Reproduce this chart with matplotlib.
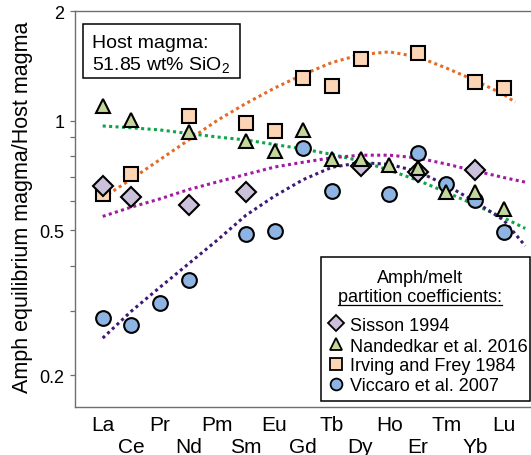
import numpy as np
import matplotlib
matplotlib.use("Agg")
import matplotlib.pyplot as plt
from matplotlib.patches import Rectangle
from matplotlib.lines import Line2D
from matplotlib.ticker import NullFormatter

plt.rcParams['font.family'] = ['Liberation Sans', 'DejaVu Sans']
plt.rcParams['mathtext.fontset'] = 'custom'
plt.rcParams['mathtext.rm'] = 'Liberation Sans'
plt.rcParams['mathtext.it'] = 'Liberation Sans:italic'

nan = np.nan

# Rare earth elements along the x axis
elements = ['La', 'Ce', 'Pr', 'Nd', 'Pm', 'Sm', 'Eu', 'Gd',
            'Tb', 'Dy', 'Ho', 'Er', 'Tm', 'Yb', 'Lu']

# Amph equilibrium magma / host magma, one list per partition-coefficient set
sisson = [0.660, 0.618, nan, 0.587, nan, 0.636, nan, nan,
          nan, 0.753, nan, 0.721, nan, 0.734, nan]
nandedkar = [1.099, 1.002, nan, 0.931, nan, 0.878, 0.824, 0.945,
             0.787, 0.787, 0.756, 0.742, 0.637, 0.637, 0.571]
irving = [0.628, 0.712, nan, 1.029, nan, 0.986, 0.936, 1.311,
          1.242, 1.475, nan, 1.532, nan, 1.279, 1.233]
viccaro = [0.288, 0.275, 0.316, 0.366, nan, 0.487, 0.499, 0.843,
           0.641, nan, 0.628, 0.817, 0.669, 0.607, 0.496]

# Model curves for each set
curve_x_irving = [0, 1, 2, 3, 4, 5, 6, 7, 8, 9, 10, 11, 12, 13, 14, 14.4]
curve_irving = [0.614, 0.691, 0.782, 0.885, 1.002, 1.115, 1.229, 1.339,
                1.444, 1.518, 1.545, 1.497, 1.394, 1.289, 1.180, 1.123]
curve_x = [0, 1, 2, 3, 4, 5, 6, 7, 8, 9, 10, 11, 12, 13, 14, 14.75]
curve_nandedkar = [0.967, 0.956, 0.943, 0.922, 0.902, 0.885, 0.860, 0.836,
                   0.808, 0.775, 0.731, 0.686, 0.636, 0.587, 0.541, 0.506]
curve_sisson = [0.546, 0.579, 0.610, 0.647, 0.679, 0.712, 0.746, 0.769,
                0.791, 0.804, 0.804, 0.790, 0.760, 0.728, 0.698, 0.678]
curve_viccaro = [0.253, 0.300, 0.349, 0.405, 0.470, 0.550, 0.621, 0.689,
                 0.745, 0.767, 0.759, 0.725, 0.665, 0.599, 0.533, 0.453]

legend_labels = ['Sisson 1994', 'Nandedkar et al. 2016',
                 'Irving and Frey 1984', 'Viccaro et al. 2007']

pos = np.arange(len(elements))

fig = plt.figure(figsize=(5.31, 4.56), dpi=100)
ax = fig.add_axes([75 / 531, 48.3 / 456, 456 / 531, 395.7 / 456])
ax.set_yscale('log')
ax.set_ylim(0.164, 2.0)
ax.set_xlim(-0.967, 14.95)

dots = dict(lw=2.2, ls=(0, (1, 1.1)), dash_capstyle='butt', zorder=2)
ax.plot(curve_x_irving, curve_irving, color='#e36b26', **dots)
ax.plot(curve_x, curve_nandedkar, color='#0fa34a', **dots)
ax.plot(curve_x, curve_sisson, color='#a21aa4', **dots)
ax.plot(curve_x, curve_viccaro, color='#3e1a78', **dots)

styles = [
    (sisson, 'D', 10.4, '#ccc1da', 5),
    (nandedkar, '^', 10.6, '#c3d69b', 6),
    (irving, 's', 10.3, '#fcd5b4', 3),
    (viccaro, 'o', 10.6, '#8db4e2', 4),
]
for vals, mk, ms, fc, z in styles:
    ax.plot(pos, vals, ls='none', marker=mk, ms=ms, mfc=fc, mec='black',
            mew=1.5, zorder=z)

# Axes frame and ticks
spine_col = '#6f6f6f'
for side in ('left', 'bottom', 'top'):
    ax.spines[side].set_color(spine_col)
    ax.spines[side].set_linewidth(1.0)
ax.spines['right'].set_visible(False)

ax.set_yticks([0.2, 0.5, 1, 2])
ax.set_yticklabels(['0.2', '0.5', '1', '2'])
ax.set_yticks([0.3, 0.4, 0.6, 0.7, 0.8, 0.9], minor=True)
ax.yaxis.set_minor_formatter(NullFormatter())
ax.tick_params(axis='y', which='both', direction='out', length=3.6,
               width=0.9, color=spine_col, labelsize=13, pad=4)

ax.set_xticks(pos[::2])
ax.set_xticklabels(elements[::2])
ax.set_xticks(pos[1::2], minor=True)
ax.set_xticklabels(elements[1::2], minor=True)
ax.tick_params(axis='x', which='both', length=0, labelsize=15)
ax.tick_params(axis='x', which='major', pad=6)
ax.tick_params(axis='x', which='minor', pad=22)

ax.set_ylabel('Amph equilibrium magma/Host magma', fontsize=15.5)
ax.yaxis.set_label_coords(-0.092, 0.507)

# Host magma box
ax.add_patch(Rectangle((0.0175, 0.8307), 0.3443, 0.1364, transform=ax.transAxes,
                       fc='white', ec='black', lw=1.1, zorder=7))
ax.text(0.0366, 0.9098, 'Host magma:', transform=ax.transAxes, fontsize=14,
        va='baseline', ha='left', zorder=8)
ax.text(0.0366, 0.8534, '51.85 wt% SiO$_2$', transform=ax.transAxes,
        fontsize=14, va='baseline', ha='left', zorder=8)

# Legend box
ax.add_patch(Rectangle((0.5388, 0.0152), 0.459, 0.3639, transform=ax.transAxes,
                       fc='white', ec='black', lw=1.1, zorder=7))
ax.text(0.7566, 0.3144, 'Amph/melt', transform=ax.transAxes, fontsize=13,
        va='baseline', ha='center', zorder=8)
title2 = ax.text(0.7566, 0.2679, 'partition coefficients:',
                 transform=ax.transAxes, fontsize=13, va='baseline',
                 ha='center', zorder=8)

entry_y = [0.1946, 0.1420, 0.0920, 0.0414]
for (vals, mk, ms, fc, z), lab, y in zip(styles, legend_labels, entry_y):
    ax.plot([0.5724], [y + 0.017], transform=ax.transAxes, ls='none',
            marker=mk, ms=ms * 0.8, mfc=fc, mec='black', mew=1.3,
            zorder=9, clip_on=False)
    ax.text(0.6031, y, lab, transform=ax.transAxes, fontsize=13,
            va='baseline', ha='left', zorder=8)

# Underline the second title line
fig.canvas.draw()
bb = title2.get_window_extent(fig.canvas.get_renderer())
inv = ax.transAxes.inverted()
(ux0, _), (ux1, _) = inv.transform([(bb.x0, 0), (bb.x1, 0)])
ax.add_line(Line2D([ux0, ux1], [0.257, 0.257], transform=ax.transAxes,
                   color='black', lw=0.9, zorder=8))

fig.savefig('out.png', dpi=100)
